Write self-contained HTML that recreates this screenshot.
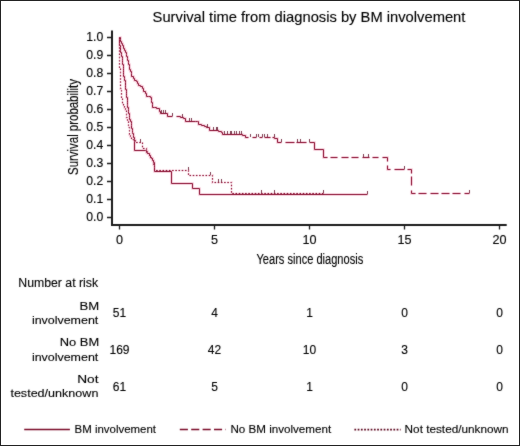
<!DOCTYPE html>
<html><head><meta charset="utf-8"><style>
html,body{margin:0;padding:0;background:#fff;}
body{width:520px;height:446px;overflow:hidden;}
svg{display:block;}
text{font-family:"Liberation Sans",sans-serif;fill:#000;stroke:#000;stroke-width:0.12px;}
</style></head><body>
<svg width="520" height="446" viewBox="0 0 520 446">
<defs><filter id="bl" color-interpolation-filters="sRGB" x="0" y="0" width="520" height="446" filterUnits="userSpaceOnUse"><feConvolveMatrix order="3" kernelMatrix="0.02 0.06 0.02 0.06 0.68 0.06 0.02 0.06 0.02" divisor="1" edgeMode="duplicate"/></filter></defs>
<rect x="0" y="0" width="520" height="446" fill="#fff"/>
<g filter="url(#bl)">
<rect x="0" y="0" width="520" height="446" fill="#fff"/>
<text x="152.6" y="21.6" font-size="14.2" textLength="312.8" lengthAdjust="spacingAndGlyphs">Survival time from diagnosis by BM involvement</text>
<path d="M112,30.5V225M111,225H506.7" fill="none" stroke="#1a1a1a" stroke-width="2"/>
<path d="M107,217.5H111M107,199.5H111M107,181.5H111M107,163.5H111M107,145.5H111M107,127.5H111M107,109.5H111M107,91.5H111M107,73.5H111M107,55.5H111M107,37.5H111" stroke="#1a1a1a" stroke-width="1.3"/>
<path d="M119.5,226V229.6M214.5,226V229.6M309.5,226V229.6M404.5,226V229.6M499.5,226V229.6" stroke="#1a1a1a" stroke-width="1.3"/>
<g font-size="12.2" text-anchor="end">
<text x="103.2" y="221.4">0.0</text><text x="103.2" y="203.4">0.1</text><text x="103.2" y="185.4">0.2</text><text x="103.2" y="167.4">0.3</text><text x="103.2" y="149.4">0.4</text><text x="103.2" y="131.4">0.5</text><text x="103.2" y="113.4">0.6</text><text x="103.2" y="95.4">0.7</text><text x="103.2" y="77.4">0.8</text><text x="103.2" y="59.4">0.9</text><text x="103.2" y="41.4">1.0</text>
</g>
<g font-size="12.6" text-anchor="middle">
<text x="119.5" y="244.3">0</text><text x="214.5" y="244.3">5</text><text x="309.5" y="244.3">10</text><text x="404.5" y="244.3">15</text><text x="499.5" y="244.3">20</text>
</g>
<text transform="translate(77.8,175) rotate(-90)" x="0" y="0" font-size="14" textLength="96" lengthAdjust="spacingAndGlyphs">Survival probability</text>
<text x="256.5" y="263.8" font-size="13.8" textLength="106.7" lengthAdjust="spacingAndGlyphs">Years since diagnosis</text>
<g fill="none" stroke="#f06090" stroke-width="2.6" opacity="0.28">
<path d="M119.5,37.5H119.5V39.5H119.5V41.5H119.5V43.5H119.5V45.5H120.5V47.5H120.5V50.5H120.5V52.5H121.5V54.5H121.5V56.5H122.5V58.5H122.5V60.5H122.5V62.5H122.5V64.5H123.5V66.5H123.5V68.5H123.5V70.5H123.5V72.5H123.5V74.5H123.5V76.5H124.5V78.5H124.5V80.5H125.5V82.5H125.5V85.5H125.5V87.5H125.5V89.5H126.5V91.5H126.5V93.5H126.5V95.5H126.5V97.5H127.5V100.5H127.5V102.5H127.5V104.5H127.5V105.5H127.5V107.5H128.5V109.5H128.5V111.5H128.5V113.5H129.5V115.5H129.5V117.5H129.5V119.5H130.5V121.5H131.5V123.5H131.5V125.5H131.5V128.5H132.5V130.5H132.5V132.5H132.5V133.5H133.5V135.5H133.5V137.5H134.5V139.5H134.5V141.5V150.5H145.5H146.5V152.5H147.5V153.5H149.5V155.5H150.5V157.5H151.5V158.5H152.5V160.5H153.5V162.5H154.5V165.5H154.5V167.5H154.5V169.5H154.5V171.5H171.5V183.5H192.5V188.5H199.5V194.5H367.5"/>
<path d="M119.5,37.5H120.5V39.5H120.5V41.5H121.5V43.5H122.5V45.5H123.5V48.5H124.5V50.5H125.5V52.5H126.5V54.5H126.5V56.5H127.5V58.5H127.5V60.5H128.5V62.5H128.5V64.5H129.5V66.5H129.5V69.5H130.5V71.5H131.5V73.5H131.5V76.5H133.5V78.5H134.5V80.5H136.5V81.5H137.5V83.5H138.5V85.5H140.5V86.5H142.5V88.5H143.5V91.5H145.5V93.5H146.5V96.5H148.5V96.5H150.5V97.5H151.5V100.5H151.5V102.5H152.5V104.5H152.5V107.5H154.5V107.5H156.5V108.5H159.5V111.5H160.5V113.5H167.5V116.5H172.5"/>
<path d="M176.5,116.5H180.5V117.5H183.5V118.5H185.5V121.5H195.5H197.5V121.5H198.5V124.5H201.5V125.5H204.5V126.5H206.5V127.5H209.5V130.5H218.5V131.5H221.5V132.5H222.5V134.5H242.5V135.5H245.5V137.5H248.5"/>
<path d="M252.5,137.5H256.5M259.5,137.5H262.5M264.5,137.5H270.5M272.5,137.5H274.5V138.5H277.5V142.5H281.5M285.5,142.5H294.5M296.5,142.5H306.5M309.5,142.5H314.5V149.5H323.5V157.5H327.5M330.5,157.5H337.5M341.5,157.5H348.5M351.5,157.5H358.5M362.5,157.5H369.5M372.5,157.5H378.5M382.5,157.5H387.5V161.5M387.5,165.5V169.5H390.5M394.5,169.5H404.5M407.5,169.5H411.5V173.5M411.5,176.5V185.5M411.5,190.5V193.5H415.5M418.5,193.5H426.5M430.5,193.5H438.5M441.5,193.5H449.5M452.5,193.5H460.5M464.5,193.5H469.5"/>
<path d="M119.5,37.5H119.5V39.5H119.5V41.5H119.5V43.5H119.5V45.5H119.5V47.5H119.5V49.5H119.5V51.5H119.5V53.5H119.5V55.5H119.5V57.5H119.5V60.5H119.5V62.5H119.5V64.5H119.5V66.5H119.5V68.5H120.5V70.5H120.5V72.5H120.5V74.5H120.5V76.5H120.5V78.5H120.5V80.5H120.5V82.5H120.5V84.5H120.5V86.5H120.5V88.5H121.5V90.5H121.5V92.5H121.5V94.5H121.5V96.5H121.5V98.5H122.5V100.5H122.5V103.5H123.5V105.5H124.5V107.5H125.5V109.5H126.5V112.5H126.5V114.5H126.5V117.5H127.5V119.5H127.5V121.5H128.5V123.5H128.5V125.5H128.5V127.5H129.5V129.5H129.5V130.5H129.5V132.5H129.5V134.5H130.5V136.5H131.5V139.5H133.5V140.5H135.5V142.5H142.5V148.5H145.5H146.5V150.5H146.5V151.5H147.5V153.5H149.5V155.5H150.5V157.5H151.5V158.5H152.5V160.5H153.5V162.5H153.5V164.5H154.5V166.5H154.5V168.5H154.5V170.5H188.5V175.5H212.5V182.5H231.5V193.5H323.5" stroke-dasharray="1.6 1.6"/>
</g>
<g fill="none" stroke="#880e30" stroke-width="1">
<path d="M119.5,37.5H119.5V39.5H119.5V41.5H119.5V43.5H119.5V45.5H120.5V47.5H120.5V50.5H120.5V52.5H121.5V54.5H121.5V56.5H122.5V58.5H122.5V60.5H122.5V62.5H122.5V64.5H123.5V66.5H123.5V68.5H123.5V70.5H123.5V72.5H123.5V74.5H123.5V76.5H124.5V78.5H124.5V80.5H125.5V82.5H125.5V85.5H125.5V87.5H125.5V89.5H126.5V91.5H126.5V93.5H126.5V95.5H126.5V97.5H127.5V100.5H127.5V102.5H127.5V104.5H127.5V105.5H127.5V107.5H128.5V109.5H128.5V111.5H128.5V113.5H129.5V115.5H129.5V117.5H129.5V119.5H130.5V121.5H131.5V123.5H131.5V125.5H131.5V128.5H132.5V130.5H132.5V132.5H132.5V133.5H133.5V135.5H133.5V137.5H134.5V139.5H134.5V141.5V150.5H145.5H146.5V152.5H147.5V153.5H149.5V155.5H150.5V157.5H151.5V158.5H152.5V160.5H153.5V162.5H154.5V165.5H154.5V167.5H154.5V169.5H154.5V171.5H171.5V183.5H192.5V188.5H199.5V194.5H367.5"/>
<path d="M119.5,37.5H120.5V39.5H120.5V41.5H121.5V43.5H122.5V45.5H123.5V48.5H124.5V50.5H125.5V52.5H126.5V54.5H126.5V56.5H127.5V58.5H127.5V60.5H128.5V62.5H128.5V64.5H129.5V66.5H129.5V69.5H130.5V71.5H131.5V73.5H131.5V76.5H133.5V78.5H134.5V80.5H136.5V81.5H137.5V83.5H138.5V85.5H140.5V86.5H142.5V88.5H143.5V91.5H145.5V93.5H146.5V96.5H148.5V96.5H150.5V97.5H151.5V100.5H151.5V102.5H152.5V104.5H152.5V107.5H154.5V107.5H156.5V108.5H159.5V111.5H160.5V113.5H167.5V116.5H172.5"/>
<path d="M176.5,116.5H180.5V117.5H183.5V118.5H185.5V121.5H195.5H197.5V121.5H198.5V124.5H201.5V125.5H204.5V126.5H206.5V127.5H209.5V130.5H218.5V131.5H221.5V132.5H222.5V134.5H242.5V135.5H245.5V137.5H248.5"/>
<path d="M252.5,137.5H256.5M259.5,137.5H262.5M264.5,137.5H270.5M272.5,137.5H274.5V138.5H277.5V142.5H281.5M285.5,142.5H294.5M296.5,142.5H306.5M309.5,142.5H314.5V149.5H323.5V157.5H327.5M330.5,157.5H337.5M341.5,157.5H348.5M351.5,157.5H358.5M362.5,157.5H369.5M372.5,157.5H378.5M382.5,157.5H387.5V161.5M387.5,165.5V169.5H390.5M394.5,169.5H404.5M407.5,169.5H411.5V173.5M411.5,176.5V185.5M411.5,190.5V193.5H415.5M418.5,193.5H426.5M430.5,193.5H438.5M441.5,193.5H449.5M452.5,193.5H460.5M464.5,193.5H469.5"/>
<path d="M119.5,37.5H119.5V39.5H119.5V41.5H119.5V43.5H119.5V45.5H119.5V47.5H119.5V49.5H119.5V51.5H119.5V53.5H119.5V55.5H119.5V57.5H119.5V60.5H119.5V62.5H119.5V64.5H119.5V66.5H119.5V68.5H120.5V70.5H120.5V72.5H120.5V74.5H120.5V76.5H120.5V78.5H120.5V80.5H120.5V82.5H120.5V84.5H120.5V86.5H120.5V88.5H121.5V90.5H121.5V92.5H121.5V94.5H121.5V96.5H121.5V98.5H122.5V100.5H122.5V103.5H123.5V105.5H124.5V107.5H125.5V109.5H126.5V112.5H126.5V114.5H126.5V117.5H127.5V119.5H127.5V121.5H128.5V123.5H128.5V125.5H128.5V127.5H129.5V129.5H129.5V130.5H129.5V132.5H129.5V134.5H130.5V136.5H131.5V139.5H133.5V140.5H135.5V142.5H142.5V148.5H145.5H146.5V150.5H146.5V151.5H147.5V153.5H149.5V155.5H150.5V157.5H151.5V158.5H152.5V160.5H153.5V162.5H153.5V164.5H154.5V166.5H154.5V168.5H154.5V170.5H188.5V175.5H212.5V182.5H231.5V193.5H323.5" stroke-dasharray="1.6 1.6"/>
</g>
<g fill="none" stroke="#7e3c50" stroke-width="1">
<path d="M367.5,194.0v-3.0"/>
<path d="M161.5,113.0v-3.0M163.5,113.0v-3.0M165.5,113.0v-3.0M172.5,116.0v-3.0M182.5,117.0v-3.0M189.5,121.0v-3.0M191.5,121.0v-3.0M207.5,127.0v-3.0M213.5,130.0v-3.0M216.5,130.0v-3.0M217.5,130.0v-3.0M224.5,134.0v-3.0M227.5,134.0v-3.0M230.5,134.0v-3.0M231.5,134.0v-3.0M234.5,134.0v-3.0M236.5,134.0v-3.0M239.5,134.0v-3.0M241.5,134.0v-3.0M250.5,137.0v-3.0M256.5,137.0v-3.0M258.5,137.0v-3.0M262.5,137.0v-3.0M264.5,137.0v-3.0M267.5,137.0v-3.0M274.5,137.0v-3.0M281.5,142.0v-3.0M297.5,142.0v-3.0M300.5,142.0v-3.0M309.5,142.0v-3.0M363.5,157.0v-3.0M368.5,157.0v-3.0M404.5,169.0v-3.0M469.5,193.0v-3.0"/>
<path d="M188.5,170.0v-3.0M210.5,175.0v-3.0M218.5,182.0v-3.0M221.5,182.0v-3.0M261.5,193.0v-3.0M274.5,193.0v-3.0M323.5,193.0v-3.0M140.5,142.0v-3.0"/>
</g>
<text x="18.3" y="286.9" font-size="12" textLength="79.8" lengthAdjust="spacingAndGlyphs">Number at risk</text>
<g font-size="11.6" text-anchor="end">
<text x="99.2" y="309.5" textLength="19.7" lengthAdjust="spacingAndGlyphs">BM</text>
<text x="98.3" y="323.7" textLength="66.4" lengthAdjust="spacingAndGlyphs">involvement</text>
<text x="99.2" y="346" textLength="39.4" lengthAdjust="spacingAndGlyphs">No BM</text>
<text x="98.3" y="360.8" textLength="66.4" lengthAdjust="spacingAndGlyphs">involvement</text>
<text x="98.5" y="383" textLength="21.3" lengthAdjust="spacingAndGlyphs">Not</text>
<text x="98.4" y="397" textLength="88" lengthAdjust="spacingAndGlyphs">tested/unknown</text>
</g>
<g font-size="12" text-anchor="middle">
<text x="119.5" y="317">51</text><text x="214.5" y="317">4</text><text x="309.5" y="317">1</text><text x="404.5" y="317">0</text><text x="499.5" y="317">0</text>
<text x="119.5" y="353.8">169</text><text x="214.5" y="353.8">42</text><text x="309.5" y="353.8">10</text><text x="404.5" y="353.8">3</text><text x="499.5" y="353.8">0</text>
<text x="119.5" y="390.8">61</text><text x="214.5" y="390.8">5</text><text x="309.5" y="390.8">1</text><text x="404.5" y="390.8">0</text><text x="499.5" y="390.8">0</text>
</g>
<g fill="none" stroke="#7a0a28" stroke-width="1.5">
<path d="M24.2,429.6H69.9"/>
<path d="M179.8,429.6H225.8" stroke-dasharray="8.1 3.3"/>
<path d="M354.4,429.7H400.6" stroke-dasharray="1.75 1.5" stroke-width="1.8" stroke="#5e0820"/>
</g>
<g font-size="11.6">
<text x="74.6" y="433.4" textLength="81.4" lengthAdjust="spacingAndGlyphs">BM involvement</text>
<text x="230.4" y="433.4" textLength="100.8" lengthAdjust="spacingAndGlyphs">No BM involvement</text>
<text x="404.6" y="433.4" textLength="104" lengthAdjust="spacingAndGlyphs">Not tested/unknown</text>
</g>
</g>
<rect x="0.5" y="0.5" width="519" height="445" fill="none" stroke="#222" stroke-width="1"/>
</svg>
</body></html>
